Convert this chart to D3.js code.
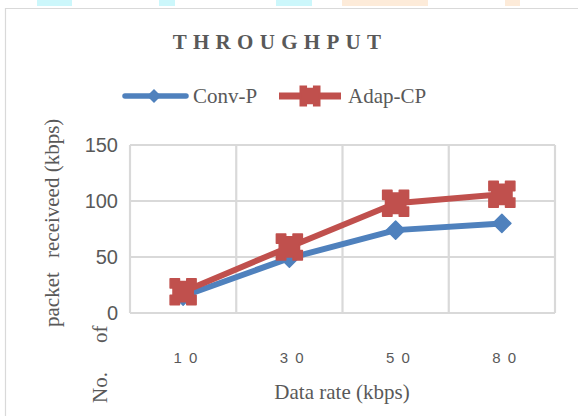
<!DOCTYPE html>
<html><head><meta charset="utf-8">
<script src="https://cdn.jsdelivr.net/npm/d3@7/dist/d3.min.js"></script>
<style>body{margin:0;background:#fff}svg{display:block}</style>
</head><body>
<script>
const categories = ["1 0", "3 0", "5 0", "8 0"];
const convP = [15, 49, 74, 80];
const adapCP = [19, 59, 98, 106];
const yTicks = [0, 50, 100, 150];
const seriesNames = ["Conv-P", "Adap-CP"];

const W = 578, H = 416;
const svg = d3.select("body").append("svg").attr("width", W).attr("height", H);

// page decorations / frame
const deco = [[37,72,"#ccf7fb"],[159,175,"#ccf7fb"],[276,312,"#ccf7fb"],[342,428,"#fdebd9"],[505,520,"#fdebd9"]];
deco.forEach(d => svg.append("rect").attr("x", d[0]).attr("y", 0).attr("width", d[1]-d[0]).attr("height", 6).attr("fill", d[2]));
svg.append("path").attr("d", "M5.5,416 V8.5 H578").attr("fill", "none").attr("stroke", "#d9d9d9").attr("stroke-width", 1.2);

const pL = 130, pR = 555, pT = 145, pB = 313;
const x = d3.scaleBand().domain(categories).range([pL, pR]);
const y = d3.scaleLinear().domain([0, 150]).range([pB, pT]);

const grid = "#d9d9d9";
svg.append("g").selectAll("line").data(yTicks).join("line")
  .attr("x1", pL).attr("x2", pR).attr("y1", d => y(d)).attr("y2", d => y(d))
  .attr("stroke", grid).attr("stroke-width", 2.2);
const bounds = categories.map(c => x(c)).concat([pR]);
svg.append("g").selectAll("line").data(bounds).join("line")
  .attr("x1", d => d).attr("x2", d => d).attr("y1", pT).attr("y2", pB)
  .attr("stroke", grid).attr("stroke-width", 2.2);

svg.append("g").selectAll("text").data(yTicks).join("text")
  .attr("x", 118).attr("y", d => y(d)).attr("dy", "0.36em")
  .attr("text-anchor", "end").attr("fill", "#595959")
  .style("font-family", "'Liberation Sans', Arial, sans-serif").style("font-size", "20px")
  .text(d => d);
svg.append("g").selectAll("text").data(categories).join("text")
  .attr("x", d => x(d) + x.bandwidth()/2 + 3).attr("y", 363)
  .attr("text-anchor", "middle").attr("fill", "#595959")
  .style("font-family", "'Liberation Sans', Arial, sans-serif").style("font-size", "15px")
  .style("letter-spacing", "1.5px")
  .text(d => d);

const serif = "'Liberation Serif', 'Times New Roman', serif";
svg.append("text").attr("x", 280).attr("y", 49).attr("text-anchor", "middle")
  .attr("fill", "#595959").style("font-family", serif).style("font-weight", "bold")
  .style("font-size", "21px").style("letter-spacing", "6.3px").text("THROUGHPUT");

svg.append("text").attr("x", 342).attr("y", 399).attr("text-anchor", "middle")
  .attr("fill", "#595959").style("font-family", serif).style("font-size", "21px").text("Data rate (kbps)");
const yl = [["packet", 59, 327], ["receiveed (kbps)", 59, 258], ["No.", 107, 403], ["of", 107, 343]];
yl.forEach(t => svg.append("text").attr("transform", `translate(${t[1]},${t[2]}) rotate(-90)`)
  .attr("fill", "#595959").style("font-family", serif).style("font-size", "21px").text(t[0]));

const blue = "#4f81bd", red = "#c0504d";
const diamond = s => `M0,${-s} L${s},0 L0,${s} L${-s},0 Z`;
const notched = s => {
  const n = s*0.28, dp = s*0.22;
  return `M${-s},${-s} H${-n} V${-s+dp} H${n} V${-s} H${s} V${-n} H${s-dp} V${n} H${s} V${s} H${n} V${s-dp} H${-n} V${s} H${-s} V${n} H${-s+dp} V${-n} H${-s} Z`;
};

const line = d3.line().x((d, i) => x(categories[i]) + x.bandwidth()/2).y(d => y(d));
function drawSeries(vals, color, marker) {
  svg.append("path").datum(vals).attr("d", line).attr("fill", "none")
    .attr("stroke", color).attr("stroke-width", 6).attr("stroke-linejoin", "round");
  svg.append("g").selectAll("path").data(vals).join("path")
    .attr("transform", (d, i) => `translate(${x(categories[i]) + x.bandwidth()/2},${y(d)})`)
    .attr("d", marker).attr("fill", color).attr("stroke", color).attr("stroke-width", 1.5).attr("stroke-linejoin", "round");
}
drawSeries(convP, blue, diamond(9));
drawSeries(adapCP, red, notched(13));

const lg = svg.append("g");
lg.append("line").attr("x1", 125).attr("x2", 186).attr("y1", 96).attr("y2", 96)
  .attr("stroke", blue).attr("stroke-width", 5.5).attr("stroke-linecap", "round");
lg.append("path").attr("transform", "translate(154,96)").attr("d", diamond(7)).attr("fill", blue);
lg.append("text").attr("x", 193).attr("y", 103).attr("fill", "#595959")
  .style("font-family", serif).style("font-size", "21px").text(seriesNames[0]);
lg.append("line").attr("x1", 279).attr("x2", 341).attr("y1", 96).attr("y2", 96)
  .attr("stroke", red).attr("stroke-width", 7);
lg.append("path").attr("transform", "translate(310,96)").attr("d", notched(10.5)).attr("fill", red);
lg.append("text").attr("x", 348).attr("y", 103).attr("fill", "#595959")
  .style("font-family", serif).style("font-size", "21px").text(seriesNames[1]);
</script>
</body></html>
